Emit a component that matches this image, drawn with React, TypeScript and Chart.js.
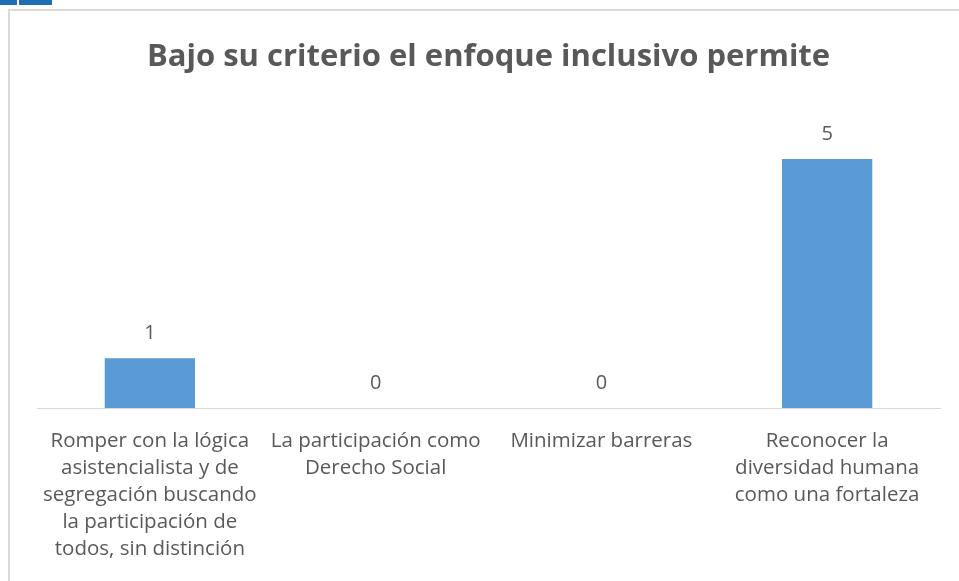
import React, { useEffect, useRef } from "react";
import { Chart, registerables } from "chart.js";

Chart.register(...registerables);

const title = "Bajo su criterio el enfoque inclusivo permite";
const categories: string[][] = [
  ["Romper con la lógica", "asistencialista y de", "segregación buscando", "la participación de", "todos, sin distinción"],
  ["La participación como", "Derecho Social"],
  ["Minimizar barreras"],
  ["Reconocer la", "diversidad humana", "como una fortaleza"],
];
const values: number[] = [1, 0, 0, 5];
const yMax = 6;

const TEXT = "#595959";
const BAR = "#5B9BD5";
const FONT = "'Open Sans', sans-serif";

const dataLabels = {
  id: "dataLabels",
  afterDatasetsDraw(chart: any) {
    const ctx = chart.ctx;
    const meta = chart.getDatasetMeta(0);
    ctx.save();
    ctx.fillStyle = TEXT;
    ctx.font = `20px ${FONT}`;
    ctx.textAlign = "center";
    ctx.textBaseline = "middle";
    meta.data.forEach((el: any, i: number) => {
      ctx.fillText(String(values[i]), el.x, el.y - 25);
    });
    ctx.restore();
  },
};

export default function App() {
  const ref = useRef<HTMLCanvasElement>(null);
  useEffect(() => {
    if (!ref.current) return;
    const chart = new Chart(ref.current, {
      type: "bar",
      data: {
        labels: categories,
        datasets: [
          {
            data: values,
            backgroundColor: BAR,
            barPercentage: 0.4,
            categoryPercentage: 1,
          },
        ],
      },
      options: {
        animation: false,
        responsive: false,
        layout: { padding: { left: 37, right: 19, top: 0, bottom: 6 } },
        plugins: {
          legend: { display: false },
          tooltip: { enabled: false },
          title: {
            display: true,
            text: title,
            color: TEXT,
            font: { family: FONT, size: 31, weight: "bold", lineHeight: 1.2 },
            padding: { top: 39, bottom: 33 },
          },
        },
        scales: {
          x: {
            grid: { display: false },
            border: { display: true, color: "#d9d9d9", width: 1 },
            ticks: {
              color: TEXT,
              font: { family: FONT, size: 20.5, lineHeight: 1.317 },
              padding: 12,
              maxRotation: 0,
              autoSkip: false,
            },
          },
          y: { display: false, min: 0, max: yMax },
        },
      },
      plugins: [dataLabels],
    });
    return () => chart.destroy();
  }, []);

  return (
    <div style={{ position: "fixed", left: 0, top: 0, width: 959, height: 581, background: "#fff", overflow: "hidden" }}>
      <div style={{ position: "absolute", left: 0, top: 0, width: 17, height: 5, background: "#1F6FB5" }} />
      <div style={{ position: "absolute", left: 19, top: 0, width: 33, height: 5, background: "#1F6FB5" }} />
      <div style={{ position: "absolute", left: 8, top: 9, width: 1000, height: 1000, border: "2px solid #d9d9d9", boxSizing: "border-box" }} />
      <canvas ref={ref} width={959} height={581} style={{ position: "absolute", left: 0, top: 0 }} />
    </div>
  );
}
